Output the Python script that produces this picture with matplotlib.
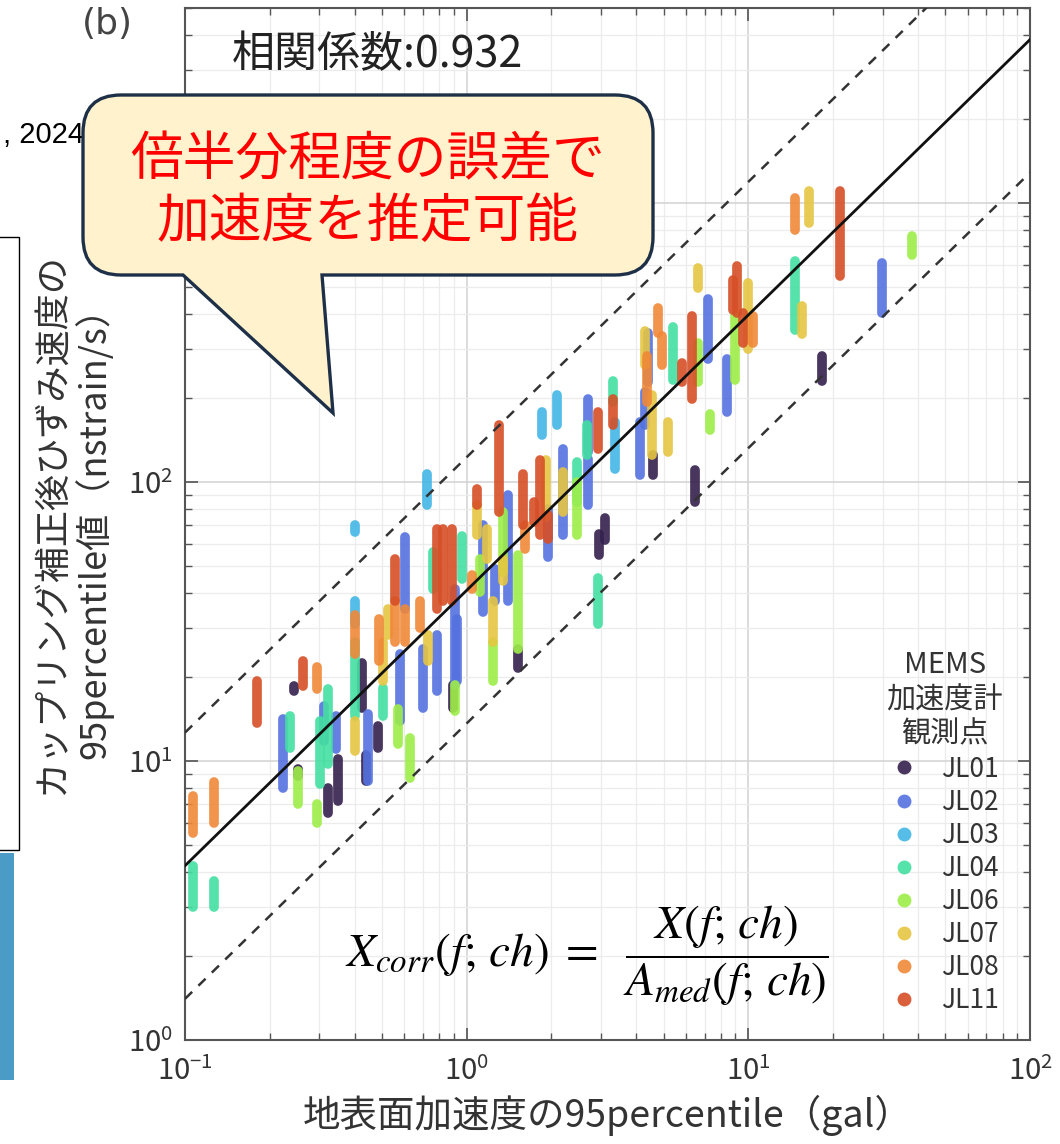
import matplotlib
matplotlib.use("Agg")
import matplotlib.pyplot as plt
import numpy as np
from matplotlib.lines import Line2D
from matplotlib.path import Path
from matplotlib.patches import PathPatch, Rectangle
from matplotlib.ticker import LogLocator, NullFormatter

plt.rcParams["font.family"] = ["Noto Sans CJK JP", "DejaVu Sans"]

# ── 観測点ごとのデータ: (地表面加速度, 補正後ひずみ速度 下端, 上端) ─────────────
JL01 = [(0.244, 17.8, 18.6), (0.252, 8.8, 9.4), (0.322, 6.5, 8.0),
        (0.35, 7.2, 10.2), (0.425, 15.5, 22.5), (0.44, 8.5, 10.5),
        (0.484, 11.1, 13.3), (0.894, 15.5, 18.8), (1.52, 21.5, 25.3),
        (2.95, 54.8, 65.0), (3.10, 62.0, 74.0), (4.6, 106, 125),
        (6.46, 84.8, 110), (18.2, 231, 284)]
JL02 = [(0.223, 8.0, 14.1), (0.311, 11.8, 15.7), (0.344, 11.0, 14.5),
        (0.446, 8.5, 14.7), (0.58, 13.9, 24.1), (0.605, 35.2, 63.5),
        (0.70, 15.5, 25.3), (0.785, 17.8, 28.4), (0.908, 18.8, 41.5),
        (0.925, 19.3, 32.4), (1.143, 34.3, 70.2), (1.26, 37.3, 48.9),
        (1.40, 37.3, 89.9), (1.94, 54.0, 80.0), (2.20, 64.7, 131),
        (2.70, 128, 198), (2.70, 82.7, 121), (4.12, 106, 164),
        (4.30, 160, 210), (4.40, 228, 343), (7.19, 275, 451),
        (8.39, 178, 275), (29.8, 405, 611)]
JL03 = [(0.401, 66.0, 70.0), (0.401, 30.9, 37.3), (0.723, 82.7, 107),
        (1.85, 147, 178), (2.09, 160, 205), (3.36, 111, 164)]
JL04 = [(0.107, 3.0, 4.2), (0.127, 3.0, 3.7), (0.236, 11.1, 14.5),
        (0.301, 8.3, 13.9), (0.322, 9.75, 18.1), (0.401, 14.5, 26.8),
        (0.505, 14.5, 18.2), (0.76, 41.5, 56.0), (0.962, 45.0, 64.0),
        (2.46, 85.0, 118), (2.67, 125, 160), (2.92, 30.9, 45.1),
        (3.30, 193, 230), (5.40, 233, 358), (14.6, 352, 620)]
JL06 = [(0.252, 7.0, 9.2), (0.294, 6.0, 7.0), (0.57, 11.5, 15.3),
        (0.63, 8.7, 12.1), (0.908, 15.1, 18.8), (1.115, 40.5, 53.1),
        (1.239, 19.3, 26.8), (1.346, 47.7, 78.1), (1.52, 25.3, 54.8),
        (2.46, 64.7, 100), (6.62, 228, 316), (7.31, 153, 175),
        (8.96, 233, 395), (38.0, 652, 763)]
JL07 = [(0.401, 10.9, 13.9), (0.505, 19.3, 26.8), (0.525, 28.4, 35.2),
        (0.73, 22.8, 28.4), (1.088, 64.7, 82.7), (1.18, 53.1, 68.0),
        (1.239, 26.8, 37.3), (1.346, 44.0, 53.1), (1.92, 75.0, 120),
        (2.20, 78.1, 109), (4.30, 262, 349), (4.55, 125, 205),
        (5.18, 128, 164), (6.62, 497, 586), (9.98, 299, 518),
        (15.5, 338, 429), (16.4, 849, 1104)]
JL08 = [(0.107, 5.5, 7.5), (0.127, 6.0, 8.4), (0.294, 18.1, 21.8),
        (0.401, 24.1, 33.5), (0.49, 22.8, 32.4), (0.556, 26.8, 37.3),
        (0.604, 26.8, 35.2), (0.683, 29.9, 37.3), (1.044, 41.5, 46.5),
        (1.61, 57.6, 70.2), (4.37, 193, 284), (4.78, 343, 422),
        (4.93, 262, 335), (10.4, 316, 395), (14.6, 801, 1042)]
JL11 = [(0.18, 13.7, 19.3), (0.262, 18.5, 22.8), (0.556, 37.3, 53.1),
        (0.785, 35.2, 68.0), (0.824, 37.3, 68.0), (0.887, 37.3, 68.0),
        (1.09, 82.7, 94.4), (1.30, 78.1, 160), (1.585, 70.2, 107),
        (1.74, 71.9, 84.8), (1.82, 64.7, 120), (1.94, 62.6, 76.2),
        (2.92, 131, 178), (3.30, 160, 198), (5.81, 228, 268),
        (6.30, 198, 395), (8.81, 415, 531), (9.10, 405, 596),
        (9.56, 316, 405), (21.1, 549, 1104)]

STATIONS = ["JL01", "JL02", "JL03", "JL04", "JL06", "JL07", "JL08", "JL11"]
STATION_DATA = [JL01, JL02, JL03, JL04, JL06, JL07, JL08, JL11]
STATION_COLOR = ["#34204d", "#5472df", "#42b6e6", "#44dfa2",
                 "#9eee48", "#e6c642", "#f08838", "#d64f27"]

X_TICKS = [0.1, 1, 10, 100]
X_TICK_LABELS = [r"$\mathdefault{10^{-1}}$", r"$\mathdefault{10^{0}}$",
                 r"$\mathdefault{10^{1}}$", r"$\mathdefault{10^{2}}$"]
# 10^3 のラベルは吹き出しの下に隠れるので空にしておく
Y_TICKS = [1, 10, 100, 1000]
Y_TICK_LABELS = [r"$\mathdefault{10^{0}}$", r"$\mathdefault{10^{1}}$",
                 r"$\mathdefault{10^{2}}$", ""]

# 回帰直線 y = a * x^b と 倍半分(×3, ÷3) の範囲
FIT_COEF = 40.9
FIT_EXP = 0.987
BAND = 3.0
R_COEF = 0.932

W, H = 1060, 1144


def px(x, y):
    """画像ピクセル座標 -> figure 座標"""
    return x / W, 1 - y / H


fig = plt.figure(figsize=(W / 100, H / 100), dpi=100, facecolor="white")
ax = fig.add_axes([185 / W, 1 - 1040 / H, 845 / W, 1032 / H])
ax.set_xscale("log")
ax.set_yscale("log")

# ── グリッド・目盛 ───────────────────────────────────────────────────────────
ax.set_axisbelow(True)
ax.grid(True, which="major", color="#d2d2d2", linewidth=1.1)
ax.grid(True, which="minor", color="#ececec", linewidth=0.9)
ax.set_xticks(X_TICKS, labels=X_TICK_LABELS)
ax.set_yticks(Y_TICKS, labels=Y_TICK_LABELS)
ax.xaxis.set_minor_locator(LogLocator(base=10, subs=np.arange(2, 10)))
ax.yaxis.set_minor_locator(LogLocator(base=10, subs=np.arange(2, 10)))
ax.xaxis.set_minor_formatter(NullFormatter())
ax.yaxis.set_minor_formatter(NullFormatter())
ax.set_xlim(0.1, 100)
ax.set_ylim(1, 5000)
ax.tick_params(which="both", direction="in", top=True, right=True,
               colors="#555555", labelcolor="#333333", labelsize=21)
ax.tick_params(axis="x", which="major", pad=12)
ax.tick_params(axis="y", which="major", pad=9)
ax.tick_params(which="major", length=9, width=1.2)
ax.tick_params(which="minor", length=5, width=1.0)
for sp in ax.spines.values():
    sp.set_color("#555555")
    sp.set_linewidth(1.5)

# ── データ (観測点ごとの縦列) ─────────────────────────────────────────────────
for data, col in zip(STATION_DATA, STATION_COLOR):
    xs = [d[0] for d in data]
    lo = [d[1] for d in data]
    hi = [d[2] for d in data]
    ax.vlines(xs, lo, hi, colors=col, linewidth=7, capstyle="round",
              alpha=0.9, zorder=3)

# ── 回帰直線 ────────────────────────────────────────────────────────────────
xfit = np.logspace(-1, 2, 50)
yfit = FIT_COEF * xfit ** FIT_EXP
ax.plot(xfit, yfit, color="#111111", linewidth=2.0, zorder=4)
ax.plot(xfit, yfit * BAND, color="#333333", linewidth=1.8,
        linestyle=(0, (4, 3.5)), zorder=4)
ax.plot(xfit, yfit / BAND, color="#333333", linewidth=1.8,
        linestyle=(0, (4, 3.5)), zorder=4)

# ── 軸ラベル ────────────────────────────────────────────────────────────────
ax.set_xlabel("地表面加速度の95percentile（gal）", fontsize=27,
              color="#333333")
ax.xaxis.set_label_coords(0.5, -0.053)
ax.xaxis.label.set_va("top")
ax.set_ylabel("カップリング補正後ひずみ速度の\n95percentile値（nstrain/s）",
              fontsize=26, color="#333333", linespacing=1.15)
ax.yaxis.set_label_coords(-0.085, 0.5)

# ── 凡例 ────────────────────────────────────────────────────────────────────
handles = [Line2D([0], [0], marker="o", linestyle="none", markersize=10,
                  markerfacecolor=c, markeredgecolor="none", alpha=0.9)
           for c in STATION_COLOR]
leg = ax.legend(handles, STATIONS, title="MEMS\n加速度計\n観測点",
                loc="lower right", bbox_to_anchor=(0.968, 0.025),
                frameon=False, fontsize=19, title_fontsize=21,
                labelspacing=0.23, handletextpad=0.9, handlelength=1.0,
                borderpad=0, borderaxespad=0, labelcolor="#333333")
leg.get_title().set_color("#333333")
leg.get_title().set_multialignment("center")

# ── 式 ──────────────────────────────────────────────────────────────────────
ax.text(0.189, 0.082,
        r"$X_{corr}(f;\,ch)\;=\;\ \dfrac{X(f;\,ch)}{A_{med}(f;\,ch)}$",
        transform=ax.transAxes, fontsize=34, math_fontfamily="stix",
        ha="left", va="center", color="black", zorder=6)

# ── 図の上部のテキスト ─────────────────────────────────────────────────────
fig.text(*px(107, 24), "(b)", fontsize=26, color="#444444",
         family="DejaVu Sans", ha="center", va="center")
fig.text(*px(377, 55), f"相関係数:{R_COEF}", fontsize=31, color="#222222",
         ha="center", va="center")
fig.text(*px(84, 135), ", 2024", fontsize=21, color="black",
         family="Liberation Sans", ha="right", va="center")

# 左側の枠と隣の図の端
fig.add_artist(Rectangle(px(-5, 850), 24 / W, (850 - 237) / H,
                         transform=fig.transFigure, fill=False,
                         edgecolor="black", linewidth=1.0))
fig.add_artist(Rectangle(px(0, 1080), 14 / W, (1080 - 853) / H,
                         transform=fig.transFigure, facecolor="#4a9cc6",
                         edgecolor="none"))

# ── 吹き出し ────────────────────────────────────────────────────────────────
x0, x1, y0, y1, r = 83, 653, 95, 275, 38
tail_l, tail_r, tip = 183, 322, (333, 413)
pts = [
    ((x0 + r, y0), Path.MOVETO),
    ((x1 - r, y0), Path.LINETO),
    ((x1, y0), Path.CURVE3), ((x1, y0 + r), Path.CURVE3),
    ((x1, y1 - r), Path.LINETO),
    ((x1, y1), Path.CURVE3), ((x1 - r, y1), Path.CURVE3),
    ((tail_r, y1), Path.LINETO),
    (tip, Path.LINETO),
    ((tail_l, y1), Path.LINETO),
    ((x0 + r, y1), Path.LINETO),
    ((x0, y1), Path.CURVE3), ((x0, y1 - r), Path.CURVE3),
    ((x0, y0 + r), Path.LINETO),
    ((x0, y0), Path.CURVE3), ((x0 + r, y0), Path.CURVE3),
    ((x0 + r, y0), Path.CLOSEPOLY),
]
verts = [px(*p) for p, _ in pts]
codes = [c for _, c in pts]
bubble = PathPatch(Path(verts, codes), transform=fig.transFigure,
                   facecolor="#fff2cc", edgecolor="#1e3048", linewidth=2.4,
                   joinstyle="miter", zorder=10)
fig.add_artist(bubble)
fig.text(*px(368, 160), "倍半分程度の誤差で", fontsize=38, color="#ff0000",
         ha="center", va="center", zorder=11)
fig.text(*px(368, 222), "加速度を推定可能", fontsize=38, color="#ff0000",
         ha="center", va="center", zorder=11)

fig.savefig("out.png", dpi=100, facecolor="white")
